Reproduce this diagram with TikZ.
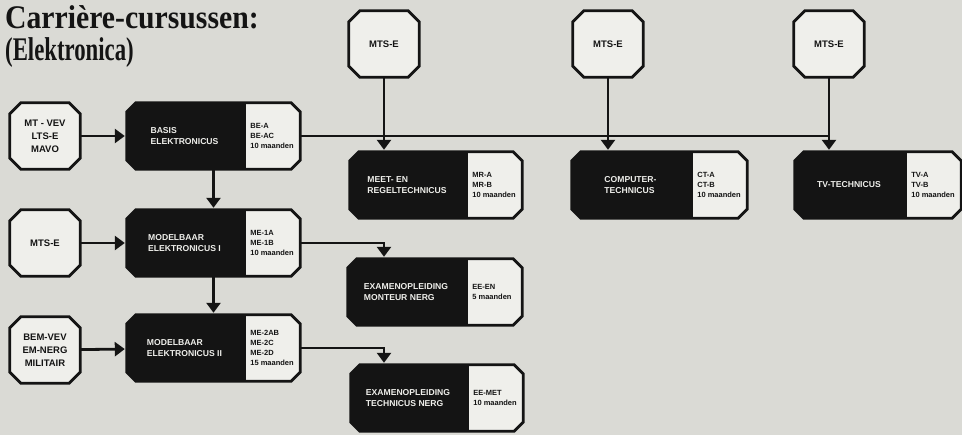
\documentclass[tikz,border=0pt]{standalone}
\usepackage{fontspec}
\setmainfont{Liberation Serif}
\newfontfamily\titlefont{Liberation Serif}
\newfontfamily\boxfont{Liberation Sans}
\usetikzlibrary{arrows.meta,positioning,calc,backgrounds}
\definecolor{ink}     {HTML}{141414}
\definecolor{paper}   {HTML}{DADAD5}
\definecolor{boxWhite}{HTML}{EFEFEB}
% outline of a node with cut-off corners
\newcommand\cutcorners[2]{%
  ([xshift=#2]#1.north west) -- ([xshift=-#2]#1.north east) --
  ([yshift=-#2]#1.north east) -- ([yshift=#2]#1.south east) --
  ([xshift=-#2]#1.south east) -- ([xshift=#2]#1.south west) --
  ([yshift=#2]#1.south west) -- ([yshift=-#2]#1.north west) -- cycle}
\tikzset{
  >={Triangle[width=14pt,length=10pt]},
  flow/.style={->,line width=2.8pt,ink,shorten >=2pt},
  busline/.style={line width=2.8pt,ink},
  boxLine/.style={draw=ink,line width=2.8pt,line join=miter},
  entryBox/.style={rectangle,inner sep=0pt,
                   minimum width=70pt,minimum height=66pt,align=center,
                   font=\boxfont\bfseries\fontsize{9.5}{13}\selectfont,text=ink},
  courseBox/.style={rectangle,inner sep=0pt,minimum height=66pt},
  nameTxt/.style={font=\boxfont\bfseries\fontsize{8.6}{10.5}\selectfont,
                  text=boxWhite,align=left,inner sep=0pt},
  codeTxt/.style={font=\boxfont\bfseries\fontsize{7.5}{10}\selectfont,
                  text=ink,align=left,inner sep=0pt,anchor=west},
}
\begin{document}
\begin{tikzpicture}[x=1pt,y=-1pt]
\useasboundingbox (0,0) rectangle (962,435);

% heading
\node[font=\titlefont\bfseries\fontsize{33}{33}\selectfont,text=ink,
      anchor=base west,inner sep=0pt] (title1) at (5,29)
  {\scalebox{0.9}[1]{Carri\`ere-cursussen:}};
\node[font=\titlefont\bfseries\fontsize{33}{33}\selectfont,text=ink,
      anchor=base west,inner sep=0pt] (title2) at (5,61)
  {\scalebox{0.69}[1]{(Elektronica)}};

% entry levels
\node[entryBox] (mtvev)  at (45,136) {MT - VEV\\LTS-E\\MAVO};
\node[entryBox] (mtsL)   at (45,243) {MTS-E};
\node[entryBox] (bemvev) at (45,350) {BEM-VEV\\EM-NERG\\MILITAIR};
\node[entryBox] (mtsA)   at (384,44) {MTS-E};
\node[entryBox] (mtsB)   at (608,44) {MTS-E};
\node[entryBox] (mtsC)   at (829,44) {MTS-E};

% course blocks, black name part with the white code part on the right
\node[courseBox,minimum width=173pt] (basis)   at (213.5,136) {};
\node[courseBox,minimum width=173pt] (modI)    at (213.5,243) {};
\node[courseBox,minimum width=173pt] (modII)   at (213.5,348) {};
\node[courseBox,minimum width=172pt] (meet)    at (436,185) {};
\node[courseBox,minimum width=175pt] (comp)    at (659.5,185) {};
\node[courseBox,minimum width=166pt] (tv)      at (878,185) {};
\node[courseBox,minimum width=174pt] (monteur) at (435,292) {};
\node[courseBox,minimum width=172pt] (techn)   at (437,398) {};

\begin{scope}[on background layer]
  \fill[paper] (0,0) rectangle (962,435);
  \foreach \n in {mtvev,mtsL,bemvev,mtsA,mtsB,mtsC}
    \filldraw[boxLine,fill=boxWhite] \cutcorners{\n}{11pt};
  \foreach \n in {basis,modI,modII,meet,comp,tv,monteur,techn} {
    \fill[ink] \cutcorners{\n}{9pt};
    \begin{scope}
      \clip \cutcorners{\n}{9pt};
      \fill[boxWhite] ([xshift=-54pt]\n.north east) rectangle (\n.south east);
    \end{scope}
    \draw[boxLine] \cutcorners{\n}{9pt};
  }
\end{scope}

\foreach \b/\name/\code in {
    basis/{BASIS\\ELEKTRONICUS}/{BE-A\\BE-AC\\10 maanden},
    modI/{MODELBAAR\\ELEKTRONICUS I}/{ME-1A\\ME-1B\\10 maanden},
    modII/{MODELBAAR\\ELEKTRONICUS II}/{ME-2AB\\ME-2C\\ME-2D\\15 maanden},
    meet/{MEET- EN\\REGELTECHNICUS}/{MR-A\\MR-B\\10 maanden},
    comp/{COMPUTER-\\TECHNICUS}/{CT-A\\CT-B\\10 maanden},
    tv/{TV-TECHNICUS}/{TV-A\\TV-B\\10 maanden},
    monteur/{EXAMENOPLEIDING\\MONTEUR NERG}/{EE-EN\\5 maanden},
    techn/{EXAMENOPLEIDING\\TECHNICUS NERG}/{EE-MET\\10 maanden}} {
  \node[nameTxt] (\b-name) at ([xshift=-29pt]\b.center) {\name};
  \node[codeTxt] (\b-code) at ([xshift=-50pt]\b.east) {\code};
}

% connections
\draw[flow] (mtvev) -- (basis);
\draw[flow] (mtsL) -- (modI);
\draw[flow] (bemvev) -- (modII);
\draw[flow] (basis) -- (modI);
\draw[flow] (modI) -- (modII);
\draw[busline] (basis.east) -- (mtsC |- basis.east);
\draw[flow] (mtsA) -- (mtsA |- meet.north);
\draw[flow] (mtsB) -- (mtsB |- comp.north);
\draw[flow] (mtsC) -- (mtsC |- tv.north);
\draw[flow] (modI.east) -| (mtsA |- monteur.north);
\draw[flow] (modII.east) -| (mtsA |- techn.north);

\end{tikzpicture}
\end{document}
